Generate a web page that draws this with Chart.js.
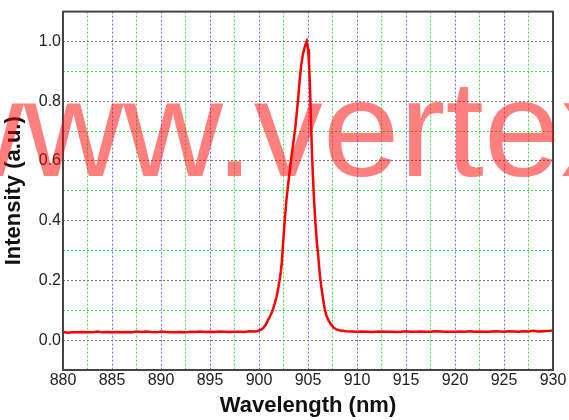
<!DOCTYPE html>
<html>
<head>
<meta charset="utf-8">
<script src="https://cdn.jsdelivr.net/npm/chart.js@4.4.1/dist/chart.umd.min.js"></script>
<style>
	html, body { margin : 0; padding : 0; background : #ffffff; }
	#wrap { width : 569px; height : 420px; }
</style>
</head>
<body>
<div id="wrap"><canvas id="spectrumChart" width="569" height="420"></canvas></div>
<script>
// 스펙트럼 데이터
var wavelength = [
	880, 880.5, 881, 881.5, 882, 882.5, 883, 883.5, 884, 884.5,
	885, 885.5, 886, 886.5, 887, 887.5, 888, 888.5, 889, 889.5,
	890, 890.5, 891, 891.5, 892, 892.5, 893, 893.5, 894, 894.5,
	895, 895.5, 896, 896.5, 897, 897.5, 898, 898.5, 899, 899.5,
	899.8, 900.2, 900.45, 900.7, 900.95, 901.2, 901.4, 901.6, 901.8, 902,
	902.15, 902.3, 902.45, 902.6, 902.8, 903, 903.3, 903.5, 903.7, 903.85,
	904, 904.15, 904.3, 904.5, 904.7, 904.87, 905, 905.1, 905.2, 905.3,
	905.4, 905.5, 905.6, 905.75, 905.9, 906.05, 906.2, 906.35, 906.5, 906.7,
	906.9, 907.1, 907.35, 907.6, 907.9, 908.3, 908.9, 909.5,
	910, 910.5, 911, 911.5, 912, 912.5, 913, 913.5, 914, 914.5,
	915, 915.5, 916, 916.5, 917, 917.5, 918, 918.5, 919, 919.5,
	920, 920.5, 921, 921.5, 922, 922.5, 923, 923.5, 924, 924.5,
	925, 925.5, 926, 926.5, 927, 927.5, 928, 928.5, 929, 929.5, 930
];
var intensity = [
	0.027, 0.025, 0.026, 0.026, 0.027, 0.026, 0.026, 0.029, 0.026, 0.027,
	0.026, 0.027, 0.026, 0.027, 0.026, 0.029, 0.027, 0.029, 0.027, 0.026,
	0.029, 0.027, 0.026, 0.026, 0.027, 0.026, 0.028, 0.027, 0.029, 0.027,
	0.028, 0.027, 0.029, 0.028, 0.027, 0.028, 0.028, 0.027, 0.030, 0.029,
	0.030, 0.035, 0.041, 0.052, 0.069, 0.085, 0.100, 0.122, 0.146, 0.180,
	0.210, 0.250, 0.320, 0.390, 0.470, 0.530, 0.610, 0.660, 0.710, 0.760,
	0.810, 0.870, 0.920, 0.960, 0.985, 1.000, 0.975, 0.930, 0.850, 0.740,
	0.630, 0.550, 0.480, 0.395, 0.330, 0.280, 0.222, 0.180, 0.146, 0.105,
	0.080, 0.066, 0.052, 0.042, 0.036, 0.032, 0.030, 0.029,
	0.028, 0.029, 0.028, 0.027, 0.028, 0.029, 0.028, 0.028, 0.027, 0.028,
	0.030, 0.028, 0.028, 0.029, 0.028, 0.028, 0.030, 0.029, 0.028, 0.028,
	0.028, 0.029, 0.028, 0.030, 0.028, 0.029, 0.028, 0.028, 0.030, 0.029,
	0.028, 0.030, 0.029, 0.028, 0.030, 0.029, 0.031, 0.029, 0.030, 0.031, 0.032
];
var xMin = 880, xMax = 930, xStep = 2.5;
var yMin = -0.1, yMax = 1.1, yStep = 0.1;
var xTitle = 'Wavelength (nm)';
var yTitle = 'Intensity (a.u.)';
var watermark = 'www.vertex';

drawChart();

function drawChart() {

	var points = [];
	for (var i = 0; i < wavelength.length; i++) {
		points.push({ x : wavelength[i], y : intensity[i] });
	}

	// 바깥 테두리 + 워터마크
	var framePlugin = {
		id : 'frame',
		afterDraw : function(chart) {
			var c = chart.ctx;
			var a = chart.chartArea;
			c.save();
			c.strokeStyle = '#444444';
			c.lineWidth = 2;
			c.strokeRect(a.left, a.top, a.right - a.left, a.bottom - a.top);
			c.fillStyle = 'rgba(255, 0, 0, 0.5)';
			c.font = '138px "Liberation Sans", Arial, sans-serif';
			c.textBaseline = 'alphabetic';
			c.fillText(watermark, -76, 176);
			c.restore();
		}
	};

	var ctx = document.getElementById('spectrumChart');
	var myChart = new Chart(ctx, {
		type : 'line',
		data : {
			datasets : [ {
				data : points,
				borderColor : '#ff0000',
				borderWidth : 2.5,
				pointRadius : 0,
				tension : 0,
				fill : false
			} ]
		},
		plugins : [ framePlugin ],
		options : {
			responsive : false,
			animation : false,
			layout : {
				padding : { top : 9, right : 16, left : 0, bottom : 0 }
			},
			plugins : {
				legend : { display : false },
				tooltip : { enabled : false }
			},
			scales : {
				x : {
					type : 'linear',
					min : xMin,
					max : xMax,
					afterFit : function(scale) { scale.height = 50; },
					ticks : {
						stepSize : xStep,
						autoSkip : false,
						maxRotation : 0,
						padding : 1,
						color : '#222222',
						font : { family : 'Liberation Sans', size : 16 },
						callback : function(value) {
							return value % 5 === 0 ? String(value) : '';
						}
					},
					grid : {
						drawTicks : false,
						lineWidth : 1,
						color : function(context) {
							if (!context.tick) return 'rgba(0,0,0,0)';
							return context.tick.value % 5 === 0 ? '#6a6aff' : '#3fe03f';
						}
					},
					border : { display : false, dash : [ 2, 2 ] },
					title : {
						display : true,
						text : xTitle,
						color : '#111111',
						padding : { top : 0, bottom : 1 },
						font : { family : 'Liberation Sans', size : 22, weight : 'bold' }
					}
				},
				y : {
					type : 'linear',
					min : yMin,
					max : yMax,
					afterFit : function(scale) { scale.width = 63; },
					ticks : {
						stepSize : yStep,
						autoSkip : false,
						padding : 2,
						color : '#222222',
						font : { family : 'Liberation Sans', size : 16 },
						callback : function(value) {
							var n = Math.round(value * 10);
							if (n < 0 || n % 2 !== 0) return '';
							return (n / 10).toFixed(1);
						}
					},
					grid : {
						drawTicks : false,
						lineWidth : 1,
						color : function(context) {
							if (!context.tick) return 'rgba(0,0,0,0)';
							var n = Math.round(context.tick.value * 10);
							return n % 2 === 0 ? '#777777' : '#3fe03f';
						}
					},
					border : { display : false, dash : [ 2, 2 ] },
					title : {
						display : true,
						text : yTitle,
						color : '#111111',
						padding : { top : 1, bottom : 0 },
						font : { family : 'Liberation Sans', size : 22, weight : 'bold' }
					}
				}
			}
		}
	});
}
</script>
</body>
</html>
